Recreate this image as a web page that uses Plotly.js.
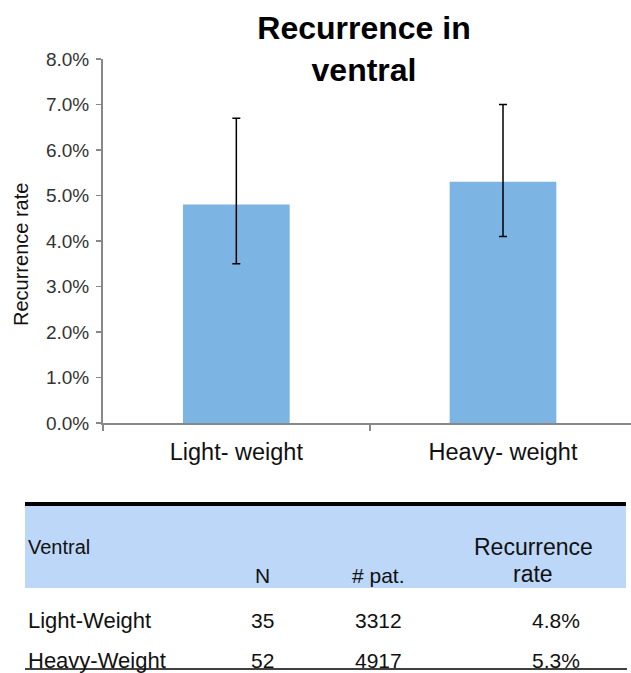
<!DOCTYPE html>
<html>
<head>
<meta charset="utf-8">
<script src="https://cdn.plot.ly/plotly-3.0.1.min.js"></script>
<style>
html,body{margin:0;padding:0;background:#fff;}
#chart{width:631px;height:673px;}
</style>
</head>
<body>
<div id="chart"></div>
<script>
// ---- chart data ----
const categories = ['Light- weight', 'Heavy- weight'];
const recurrenceRate = [0.048, 0.053];
const errorPlus = [0.019, 0.017];
const errorMinus = [0.013, 0.012];
const yAxisTitle = 'Recurrence rate';

// ---- table data ----
const tableTitle = 'Ventral';
const tableHeaders = ['N', '# pat.', 'Recurrence<br>rate'];
const rowLabels = ['Light-Weight', 'Heavy-Weight'];
const studiesN = ['35', '52'];
const patients = ['3312', '4917'];
const rateLabels = ['4.8%', '5.3%'];

const W = 631, H = 673;
const px = x => x / W;
const py = y => 1 - y / H;
const FONT = 'Liberation Sans, Arial, sans-serif';

const trace = {
  type: 'bar',
  x: categories,
  y: recurrenceRate,
  marker: {color: '#7cb5e4'},
  error_y: {
    type: 'data', symmetric: false,
    array: errorPlus, arrayminus: errorMinus,
    color: '#000', thickness: 1.5, width: 4
  },
  hoverinfo: 'skip'
};

const shapes = [
  {type: 'rect', xref: 'paper', yref: 'paper', x0: px(25), x1: px(626), y0: py(588), y1: py(506),
   fillcolor: '#bdd7f8', line: {width: 0}, layer: 'below'},
  {type: 'line', xref: 'paper', yref: 'paper', x0: px(25), x1: px(626), y0: py(504), y1: py(504),
   line: {color: '#000', width: 4}},
  {type: 'line', xref: 'paper', yref: 'paper', x0: px(25), x1: px(627), y0: py(669), y1: py(669),
   line: {color: '#000', width: 1.5}}
];

const colX = [262, 378, 533];
const valX = [262, 378, 556];
const annotations = [];
function ann(text, x, y, size, xanchor) {
  annotations.push({text: text, xref: 'paper', yref: 'paper', x: px(x), y: py(y),
    xanchor: xanchor || 'center', yanchor: 'middle', showarrow: false,
    font: {family: FONT, size: size, color: '#111'}});
}
// y-axis title (placed as rotated text)
annotations.push({text: yAxisTitle, xref: 'paper', yref: 'paper', x: px(21), y: py(255),
  xanchor: 'center', yanchor: 'middle', textangle: -90, showarrow: false,
  font: {family: FONT, size: 20, color: '#111'}});

ann(tableTitle, 26, 547, 20, 'left');
ann(tableHeaders[0], colX[0], 575, 21);
ann(tableHeaders[1], colX[1], 575, 21);
const rr = tableHeaders[2].split('<br>');
ann(rr[0], colX[2], 547, 23);
ann(rr[1], colX[2], 574, 23);
const rowY = [620, 660];
for (let i = 0; i < rowLabels.length; i++) {
  ann(rowLabels[i], 26, rowY[i], 22, 'left');
  ann(studiesN[i], valX[0], rowY[i], 21);
  ann(patients[i], valX[1], rowY[i], 21);
  ann(rateLabels[i], valX[2], rowY[i], 21);
}

const layout = {
  width: W, height: H,
  margin: {l: 0, r: 0, t: 0, b: 0},
  paper_bgcolor: '#fff', plot_bgcolor: '#fff',
  showlegend: false,
  bargap: 0.6,
  title: {
    text: '<b>Recurrence in<br>ventral</b>',
    font: {family: FONT, size: 32, color: '#000'},
    x: px(364), xanchor: 'center', xref: 'paper',
    y: 1 - 39 / H, yanchor: 'top', yref: 'container'
  },
  xaxis: {
    domain: [px(103), 1],
    type: 'category',
    range: [-0.5, 1.48],
    tickson: 'boundaries',
    ticks: 'outside', ticklen: 6, tickwidth: 2, tickcolor: '#888',
    showline: true, linecolor: '#888', linewidth: 2,
    showgrid: false, zeroline: false,
    tickfont: {family: FONT, size: 23.5, color: '#111'},
    ticklabelstandoff: 7,
    fixedrange: true
  },
  yaxis: {
    domain: [py(423), py(59)],
    range: [0, 0.08],
    dtick: 0.01, tick0: 0,
    tickformat: '.1%',
    ticks: 'outside', ticklen: 5, tickwidth: 1.5, tickcolor: '#888',
    showline: true, linecolor: '#888', linewidth: 2,
    showgrid: false, zeroline: false,
    tickfont: {family: FONT, size: 19, color: '#333'},
    ticklabelstandoff: 3,
    fixedrange: true
  },
  shapes: shapes,
  annotations: annotations
};

Plotly.newPlot('chart', [trace], layout, {displayModeBar: false, staticPlot: true});
</script>
</body>
</html>
